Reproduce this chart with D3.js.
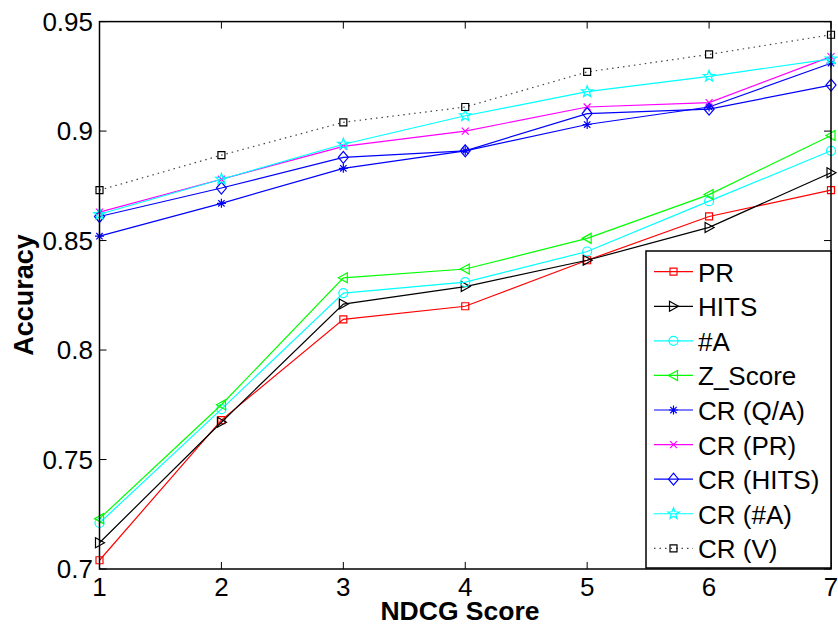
<!DOCTYPE html>
<html><head><meta charset="utf-8">
<script src="https://cdn.jsdelivr.net/npm/d3@7"></script>
<style>html,body{margin:0;padding:0;background:#fff;}svg{display:block;font-family:"Liberation Sans",Arial,sans-serif;}</style>
</head><body>
<svg id="chart" width="838" height="626"></svg>
<script>
const categories = [1, 2, 3, 4, 5, 6, 7];
const yTicks = [0.7, 0.75, 0.8, 0.85, 0.9, 0.95];
const yTickLabels = ["0.7", "0.75", "0.8", "0.85", "0.9", "0.95"];
const seriesNames = ["PR", "HITS", "#A", "Z_Score", "CR (Q/A)", "CR (PR)", "CR (HITS)", "CR (#A)", "CR (V)"];
const PR      = [0.704, 0.768, 0.814, 0.820, 0.841, 0.861, 0.873];
const HITS    = [0.712, 0.767, 0.821, 0.829, 0.841, 0.856, 0.881];
const numA    = [0.721, 0.773, 0.826, 0.831, 0.845, 0.868, 0.891];
const ZScore  = [0.723, 0.775, 0.833, 0.837, 0.851, 0.871, 0.898];
const CR_QA   = [0.852, 0.867, 0.883, 0.891, 0.903, 0.911, 0.931];
const CR_PR   = [0.863, 0.878, 0.893, 0.900, 0.911, 0.913, 0.934];
const CR_HITS = [0.861, 0.874, 0.888, 0.891, 0.908, 0.910, 0.921];
const CR_A    = [0.862, 0.878, 0.894, 0.907, 0.918, 0.925, 0.933];
const CR_V    = [0.873, 0.889, 0.904, 0.911, 0.927, 0.935, 0.944];

const seriesValues = [PR, HITS, numA, ZScore, CR_QA, CR_PR, CR_HITS, CR_A, CR_V];
const colors = ["#ff0000", "#000000", "#00ffff", "#00ff00", "#0000ff", "#ff00ff", "#0000ff", "#00ffff", "#000000"];
const markers = ["square", "triRight", "circle", "triLeft", "asterisk", "cross", "diamond", "star", "square"];
const dashed = [false, false, false, false, false, false, false, false, true];

const L = 99.5, R = 831, T = 21.6, B = 569;
const x = d3.scaleLinear().domain([1, 7]).range([L, R]);
const y = d3.scaleLinear().domain([0.7, 0.95]).range([B, T]);

const svg = d3.select("#chart");
const tickLen = 7;

function markerPath(type) {
  switch (type) {
    case "square": return "M-3.5,-3.5H3.5V3.5H-3.5Z";
    case "triRight": return "M-4,-5L5,0L-4,5Z";
    case "triLeft": return "M4,-5L-5,0L4,5Z";
    case "circle": return "M4.5,0A4.5,4.5 0 1,1 -4.5,0A4.5,4.5 0 1,1 4.5,0Z";
    case "asterisk": return "M0,-4.5V4.5M-4.5,0H4.5M-3.2,-3.2L3.2,3.2M-3.2,3.2L3.2,-3.2";
    case "cross": return "M-3.5,-3.5L3.5,3.5M-3.5,3.5L3.5,-3.5";
    case "diamond": return "M0,-6L5,0L0,6L-5,0Z";
    case "star": {
      let p = [];
      for (let i = 0; i < 10; i++) {
        const r = i % 2 === 0 ? 6 : 2.5;
        const a = -Math.PI / 2 + i * Math.PI / 5;
        p.push([r * Math.cos(a), r * Math.sin(a)]);
      }
      return "M" + p.map(d => d[0].toFixed(2) + "," + d[1].toFixed(2)).join("L") + "Z";
    }
  }
}

// Ticks (inward on all four sides)
const g = svg.append("g");
categories.forEach(c => {
  g.append("line").attr("x1", x(c)).attr("x2", x(c)).attr("y1", B).attr("y2", B - tickLen).attr("stroke", "#000");
  g.append("line").attr("x1", x(c)).attr("x2", x(c)).attr("y1", T).attr("y2", T + tickLen).attr("stroke", "#000");
  g.append("text").attr("x", x(c)).attr("y", 596).attr("text-anchor", "middle").attr("font-size", 26).text(c);
});
yTicks.forEach((v, i) => {
  g.append("line").attr("x1", L).attr("x2", L + tickLen).attr("y1", y(v)).attr("y2", y(v)).attr("stroke", "#000");
  g.append("line").attr("x1", R).attr("x2", R - tickLen).attr("y1", y(v)).attr("y2", y(v)).attr("stroke", "#000");
  g.append("text").attr("x", 93).attr("y", y(v) + 9).attr("text-anchor", "end").attr("font-size", 26).text(yTickLabels[i]);
});

// Series
const line = d3.line().x((d, i) => x(categories[i])).y(d => y(d));
seriesValues.forEach((vals, s) => {
  const sg = svg.append("g");
  sg.append("path").attr("d", line(vals)).attr("fill", "none")
    .attr("stroke", dashed[s] ? "#444" : colors[s]).attr("stroke-width", 1.2)
    .attr("stroke-dasharray", dashed[s] ? "1.5,4" : null);
  vals.forEach((v, i) => {
    sg.append("path").attr("d", markerPath(markers[s]))
      .attr("transform", `translate(${x(categories[i])},${y(v)})`)
      .attr("fill", "none").attr("stroke", colors[s]).attr("stroke-width", 1.2);
  });
});

// Axes box
svg.append("rect").attr("x", L).attr("y", T).attr("width", R - L).attr("height", B - T)
  .attr("fill", "none").attr("stroke", "#000").attr("stroke-width", 1.5);

// Axis labels
svg.append("text").attr("x", 460).attr("y", 619.5).attr("text-anchor", "middle")
  .attr("font-size", 26.5).attr("font-weight", "bold").text("NDCG Score");
svg.append("text").attr("transform", "translate(33,295) rotate(-90)").attr("text-anchor", "middle")
  .attr("font-size", 27).attr("font-weight", "bold").text("Accuracy");

// Legend
const lg = svg.append("g");
lg.append("rect").attr("x", 646).attr("y", 251).attr("width", 185).attr("height", 317)
  .attr("fill", "#fff").attr("stroke", "#000").attr("stroke-width", 1.5);
seriesNames.forEach((name, s) => {
  const ly = 271.7 + s * 34.58;
  lg.append("line").attr("x1", 654).attr("x2", 693).attr("y1", ly).attr("y2", ly)
    .attr("stroke", dashed[s] ? "#444" : colors[s]).attr("stroke-width", 1.2)
    .attr("stroke-dasharray", dashed[s] ? "1.5,4" : null);
  lg.append("path").attr("d", markerPath(markers[s])).attr("transform", `translate(673.5,${ly})`)
    .attr("fill", "none").attr("stroke", colors[s]).attr("stroke-width", 1.2);
  lg.append("text").attr("x", 698).attr("y", ly + 10).attr("font-size", 26).text(name);
});
</script>
</body></html>
